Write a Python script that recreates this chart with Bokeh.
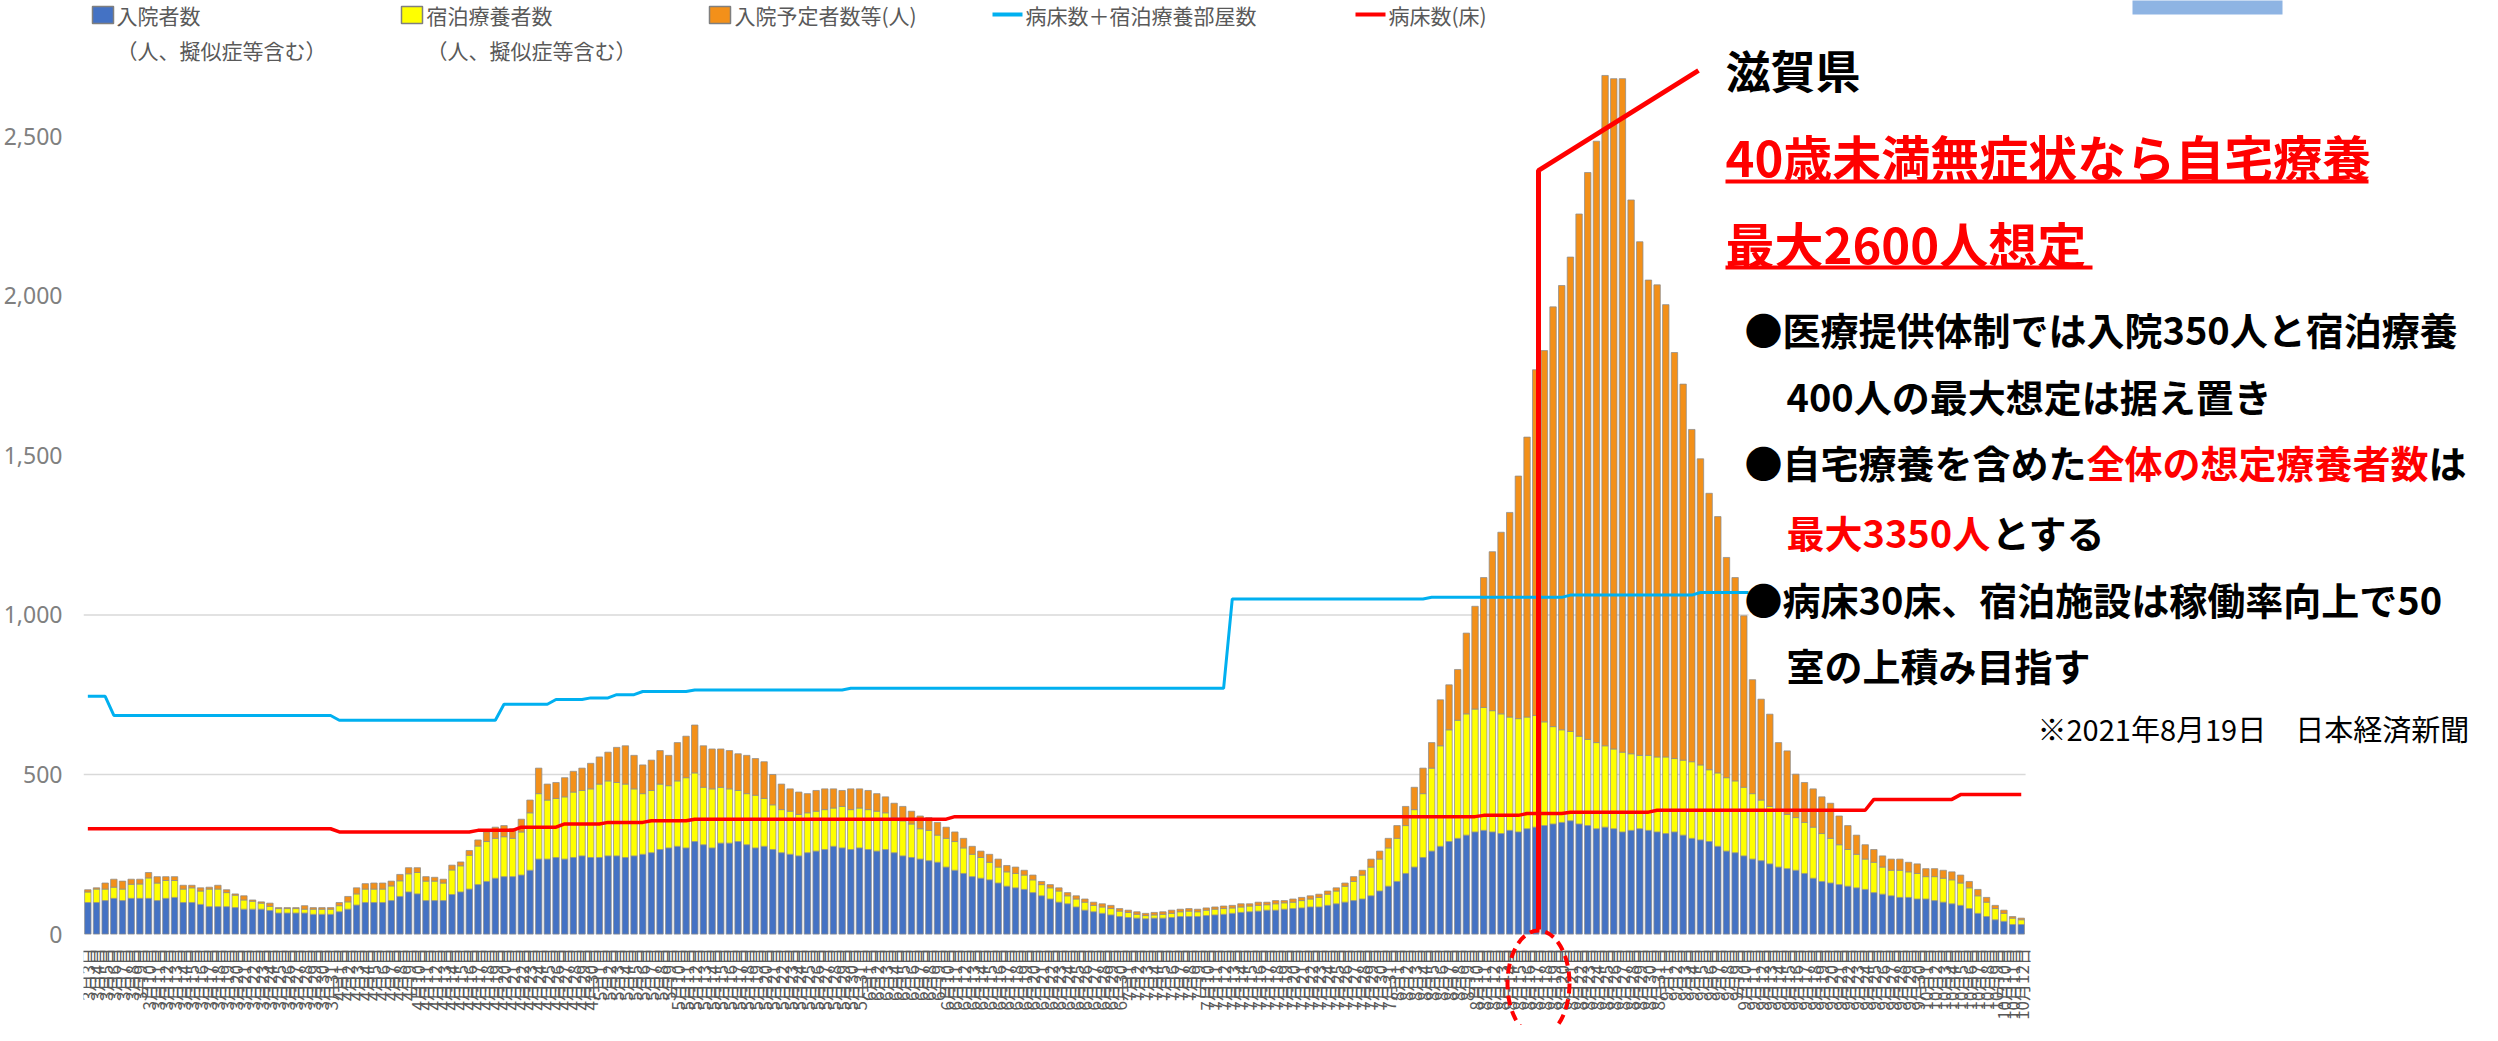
import math
import datetime
from bokeh.plotting import figure
from bokeh.models import Range1d, FixedTicker, NumeralTickFormatter, ColumnDataSource
from bokeh.embed import file_html
from bokeh.resources import INLINE
from bokeh.core.properties import value

# ---------------- data ----------------
start_date = datetime.date(2021, 3, 3)
N_DAYS = 224
date_labels = [f"{d.month}月{d.day}日" for d in
               (start_date + datetime.timedelta(days=i) for i in range(N_DAYS))]

# 入院者数（人、擬似症等含む）
hospitalized = [
    99, 99, 105, 112, 105, 112, 112, 112, 105, 112, 115, 99, 99, 93, 86, 86,
    86, 83, 78, 78, 78, 74, 66, 66, 66, 66, 62, 62, 62, 70, 78, 91,
    99, 99, 99, 105, 118, 132, 126, 105, 105, 105, 124, 132, 141, 155, 165, 175,
    180, 180, 185, 200, 235, 235, 240, 235, 240, 245, 240, 240, 245, 245, 240, 245,
    250, 255, 265, 270, 275, 270, 290, 280, 270, 285, 285, 290, 280, 270, 275, 265,
    255, 250, 245, 255, 260, 265, 275, 270, 265, 270, 265, 260, 265, 255, 245, 240,
    235, 230, 225, 210, 200, 190, 180, 175, 170, 160, 150, 145, 140, 130, 120, 110,
    100, 95, 85, 75, 70, 65, 60, 55, 52, 50, 48, 50, 50, 52, 55, 55,
    55, 58, 60, 62, 65, 68, 70, 72, 75, 75, 78, 80, 82, 85, 85, 90,
    95, 100, 105, 110, 120, 135, 150, 165, 190, 210, 240, 260, 275, 290, 300, 310,
    320, 325, 320, 315, 325, 320, 330, 335, 340, 345, 350, 355, 345, 340, 330, 335,
    330, 320, 325, 330, 325, 320, 315, 320, 310, 300, 295, 290, 275, 260, 255, 245,
    235, 230, 220, 210, 205, 200, 190, 175, 165, 160, 155, 150, 145, 140, 130, 125,
    120, 115, 115, 110, 110, 105, 100, 95, 90, 80, 65, 55, 45, 40, 30, 30,
]
# 宿泊療養者数（人、擬似症等含む）
hotel = [
    33, 42, 36, 35, 36, 44, 45, 64, 55, 56, 53, 42, 46, 42, 55, 55,
    44, 39, 29, 25, 19, 13, 14, 14, 14, 12, 16, 16, 16, 19, 23, 35,
    42, 42, 42, 46, 49, 57, 67, 61, 61, 55, 77, 82, 106, 121, 125, 125,
    125, 120, 135, 180, 205, 185, 185, 195, 205, 205, 215, 230, 235, 230, 230, 210,
    190, 195, 205, 195, 205, 220, 215, 180, 185, 175, 170, 160, 160, 165, 150, 140,
    135, 135, 130, 125, 125, 125, 120, 130, 125, 125, 125, 125, 115, 110, 110, 105,
    95, 95, 85, 90, 90, 80, 70, 65, 55, 50, 45, 45, 45, 40, 35, 35,
    35, 25, 25, 25, 20, 20, 20, 17, 16, 12, 10, 10, 12, 13, 15, 17,
    15, 17, 18, 18, 17, 17, 18, 18, 17, 20, 20, 20, 23, 25, 30, 35,
    40, 50, 60, 75, 90, 100, 120, 135, 150, 180, 200, 260, 315, 350, 370, 380,
    385, 385, 380, 375, 355, 355, 350, 350, 325, 305, 290, 280, 275, 270, 270, 255,
    250, 250, 240, 230, 235, 235, 240, 230, 235, 240, 235, 225, 230, 230, 225, 215,
    205, 190, 180, 175, 170, 165, 160, 160, 150, 140, 125, 115, 105, 95, 95, 85,
    80, 85, 80, 80, 70, 75, 75, 75, 70, 65, 55, 45, 35, 25, 20, 15,
]
# 入院予定者数等(人)
pending = [
    7, 4, 19, 25, 25, 16, 15, 17, 20, 12, 12, 12, 8, 10, 6, 12,
    9, 4, 13, 4, 4, 10, 3, 3, 3, 11, 5, 5, 5, 10, 17, 19,
    17, 19, 19, 15, 20, 19, 15, 14, 12, 12, 15, 12, 15, 19, 30, 35,
    35, 30, 40, 40, 80, 50, 50, 60, 65, 70, 80, 85, 90, 110, 120, 105,
    90, 95, 105, 95, 120, 130, 150, 130, 125, 120, 120, 115, 120, 115, 115, 95,
    80, 70, 70, 60, 65, 65, 60, 50, 65, 60, 60, 55, 50, 45, 45, 40,
    40, 40, 40, 35, 30, 30, 25, 20, 25, 25, 20, 20, 15, 15, 10, 10,
    10, 10, 10, 10, 10, 10, 10, 8, 7, 8, 7, 8, 8, 10, 8, 8,
    8, 7, 7, 8, 8, 10, 7, 10, 8, 10, 7, 10, 10, 10, 10, 10,
    10, 10, 15, 15, 25, 25, 30, 40, 60, 70, 80, 80, 144, 141, 159, 253,
    322, 407, 498, 569, 641, 760, 877, 1083, 1163, 1315, 1392, 1486, 1636, 1776, 1884, 2100,
    2100, 2110, 1735, 1609, 1489, 1479, 1417, 1272, 1178, 1041, 959, 866, 803, 690, 637, 537,
    357, 316, 289, 215, 199, 136, 125, 120, 115, 110, 90, 75, 60, 45, 40, 35,
    35, 35, 30, 30, 25, 25, 25, 25, 25, 20, 20, 15, 10, 10, 5, 5,
]
# 病床数＋宿泊療養部屋数
beds_plus_rooms = [
    745, 745, 745, 685, 685, 685, 685, 685, 685, 685, 685, 685, 685, 685, 685, 685,
    685, 685, 685, 685, 685, 685, 685, 685, 685, 685, 685, 685, 685, 670, 670, 670,
    670, 670, 670, 670, 670, 670, 670, 670, 670, 670, 670, 670, 670, 670, 670, 670,
    720, 720, 720, 720, 720, 720, 735, 735, 735, 735, 740, 740, 740, 750, 750, 750,
    760, 760, 760, 760, 760, 760, 765, 765, 765, 765, 765, 765, 765, 765, 765, 765,
    765, 765, 765, 765, 765, 765, 765, 765, 770, 770, 770, 770, 770, 770, 770, 770,
    770, 770, 770, 770, 770, 770, 770, 770, 770, 770, 770, 770, 770, 770, 770, 770,
    770, 770, 770, 770, 770, 770, 770, 770, 770, 770, 770, 770, 770, 770, 770, 770,
    770, 770, 770, 770, 1050, 1050, 1050, 1050, 1050, 1050, 1050, 1050, 1050, 1050, 1050, 1050,
    1050, 1050, 1050, 1050, 1050, 1050, 1050, 1050, 1050, 1050, 1050, 1055, 1055, 1055, 1055, 1055,
    1055, 1055, 1055, 1055, 1055, 1055, 1055, 1055, 1055, 1055, 1055, 1062, 1062, 1062, 1062, 1062,
    1062, 1062, 1062, 1062, 1062, 1062, 1062, 1062, 1062, 1062, 1070, 1070, 1070, 1070, 1070, 1070,
    1070, 1070, 1070, 1070, 1070, 1070, 1070, 1070, 1070, 1070, 1070, 1070, 1070, 1070, 1070, 1070,
    1070, 1070, 1070, 1070, 1070, 1070, 1070, 1070, 1070, 1070, 1070, 1070, 1070, 1070, 1070, 1070,
]
# 病床数(床)
beds = [
    330, 330, 330, 330, 330, 330, 330, 330, 330, 330, 330, 330, 330, 330, 330, 330,
    330, 330, 330, 330, 330, 330, 330, 330, 330, 330, 330, 330, 330, 320, 320, 320,
    320, 320, 320, 320, 320, 320, 320, 320, 320, 320, 320, 320, 320, 325, 325, 325,
    325, 325, 335, 335, 335, 335, 335, 345, 345, 345, 345, 345, 350, 350, 350, 350,
    350, 355, 355, 355, 355, 355, 360, 360, 360, 360, 360, 360, 360, 360, 360, 360,
    360, 360, 360, 360, 360, 360, 360, 360, 360, 360, 360, 360, 360, 360, 360, 360,
    360, 360, 360, 360, 368, 368, 368, 368, 368, 368, 368, 368, 368, 368, 368, 368,
    368, 368, 368, 368, 368, 368, 368, 368, 368, 368, 368, 368, 368, 368, 368, 368,
    368, 368, 368, 368, 368, 368, 368, 368, 368, 368, 368, 368, 368, 368, 368, 368,
    368, 368, 368, 368, 368, 368, 368, 368, 368, 368, 368, 368, 368, 368, 368, 368,
    368, 372, 372, 372, 372, 372, 378, 378, 378, 378, 378, 382, 382, 382, 382, 382,
    382, 382, 382, 382, 382, 388, 388, 388, 388, 388, 388, 388, 388, 388, 388, 388,
    388, 388, 388, 388, 388, 388, 388, 388, 388, 388, 388, 388, 388, 388, 422, 422,
    422, 422, 422, 422, 422, 422, 422, 422, 437, 437, 437, 437, 437, 437, 437, 437,
]
y_ticks = [0, 500, 1000, 1500, 2000, 2500]
grid_values = [500, 1000]

legend_labels = ["入院者数", "宿泊療養者数", "入院予定者数等(人)", "病床数＋宿泊療養部屋数", "病床数(床)"]
legend_sub = "（人、擬似症等含む）"

# ---------------- layout helpers (page pixels -> data) ----------------
W, H = 2482, 1025
PX0 = 91.0      # page x of the frame's left edge (= x -0.5)
PITCH = 8.67    # px per day
Y0 = 941.6      # page y of value 0
PPU = 0.3192    # px per person


def X(px):
    return -0.5 + (px - PX0) / PITCH


def Y(py):
    return (Y0 - py) / PPU


JP = "Noto Sans CJK JP"
BLUE, YELLOW, ORANGE = "#4472C4", "#FFFF00", "#F39019"
CYAN, RED = "#00B0F0", "#FF0000"

p = figure(width=W, height=H, output_backend="svg", toolbar_location=None,
           x_range=Range1d(X(91), X(2490)), y_range=Range1d(Y(1033), Y(8)),
           min_border_left=83, min_border_right=0, min_border_top=0, min_border_bottom=0)
p.outline_line_color = None
p.xgrid.visible = False
p.ygrid.visible = False

# axes
xa = p.xaxis[0]
xa.fixed_location = 0
xa.ticker = FixedTicker(ticks=list(range(N_DAYS)))
xa.major_label_overrides = {i: lab for i, lab in enumerate(date_labels)}
xa.major_label_orientation = math.pi / 2
xa.major_label_text_font = JP
xa.major_label_text_font_size = "17px"
xa.major_label_text_color = "#595959"
xa.major_label_standoff = 8
xa.axis_line_color = None
xa.major_tick_line_color = None
xa.minor_tick_line_color = None

ya = p.yaxis[0]
ya.ticker = FixedTicker(ticks=y_ticks)
ya.formatter = NumeralTickFormatter(format="0,0")
ya.major_label_text_font = "Noto Sans"
ya.major_label_text_font_size = "23px"
ya.major_label_text_color = "#808080"
ya.major_label_standoff = 15
ya.axis_line_color = None
ya.major_tick_line_color = None
ya.minor_tick_line_color = None

# gridlines
n = len(grid_values)
p.segment(x0=[-0.5] * n, x1=[N_DAYS - 0.5] * n, y0=grid_values, y1=grid_values,
          line_color="#D9D9D9", line_width=1.5)

# stacked bars
src = ColumnDataSource(dict(x=list(range(N_DAYS)), hosp=hospitalized, hotel=hotel,
                            pending=pending, label=date_labels))
p.vbar_stack(["hosp", "hotel", "pending"], x="x", width=0.74, source=src,
             fill_color=[BLUE, YELLOW, ORANGE], line_color="#8C8C8C",
             line_width=1, line_alpha=0.75)

# lines
days = list(range(N_DAYS))
p.line(days, beds_plus_rooms, line_color=CYAN, line_width=3)
p.line(days, beds, line_color=RED, line_width=3.5)

# white panel behind the annotation text
p.quad(left=[X(1756)], right=[X(2490)], bottom=[Y(640)], top=[Y(8)],
       fill_color="white", line_color=None)
# light-blue slide fragment top-right
p.quad(left=[X(2140)], right=[X(2290)], bottom=[Y(22)], top=[Y(0)],
       fill_color="#8EB4E3", line_color=None)

# ---------------- legend ----------------
def txt(px, py, s, size, color="black", bold=False, font=JP):
    p.text(x=[X(px)], y=[Y(py)], text=[s], text_font=value(font),
           text_font_size=f"{size}px", text_color=color,
           text_font_style="bold" if bold else "normal",
           text_baseline="middle", text_align="left")


for (l, r, col) in [(100, 121, BLUE), (409, 430, YELLOW), (717, 738, ORANGE)]:
    p.quad(left=[X(l)], right=[X(r)], top=[Y(14)], bottom=[Y(31)],
           fill_color=col, line_color="#7F7F7F", line_width=1.5)
p.line([X(1000), X(1030)], [Y(22), Y(22)], line_color=CYAN, line_width=4)
p.line([X(1363), X(1393)], [Y(22), Y(22)], line_color=RED, line_width=4)

LG = "#595959"
txt(124, 22, legend_labels[0], 21, LG)
txt(124, 57, legend_sub, 21, LG)
txt(434, 22, legend_labels[1], 21, LG)
txt(434, 57, legend_sub, 21, LG)
txt(742, 22, legend_labels[2], 21, LG)
txt(1033, 22, legend_labels[3], 21, LG)
txt(1396, 22, legend_labels[4], 21, LG)

# ---------------- annotation ----------------
p.line([X(1546), X(1546), X(1706)], [Y(937), Y(178), Y(78)],
       line_color=RED, line_width=5)
ell = p.ellipse(x=[X(1546)], y=[Y(991)], width=[62 / PITCH], height=[106 / PPU],
                fill_color=None, line_color=RED, line_width=4, line_dash="10 6")
ell.level = "overlay"

txt(1733, 77, "滋賀県", 45, "black", True)
txt(1733, 163, "40歳未満無症状なら自宅療養", 49, RED, True)
p.line([X(1733), X(2376)], [Y(189), Y(189)], line_color=RED, line_width=4)
txt(1733, 250, "最大2600人想定", 49, RED, True)
p.line([X(1733), X(2100)], [Y(275), Y(275)], line_color=RED, line_width=4)

B = 38
txt(1752, 336, "●医療提供体制では入院350人と宿泊療養", B, "black", True)
txt(1794, 403, "400人の最大想定は据え置き", B, "black", True)
txt(1752, 469, "●自宅療養を含めた", B, "black", True)
txt(1752 + 9 * B, 469, "全体の想定療養者数", B, RED, True)
txt(1752 + 18 * B, 469, "は", B, "black", True)
txt(1794, 539, "最大3350人", B, RED, True)
txt(1794 + 3 * B + 4 * 0.6 * B, 539, "とする", B, "black", True)
txt(1752, 606, "●病床30床、宿泊施設は稼働率向上で50", B, "black", True)
txt(1794, 672, "室の上積み目指す", B, "black", True)
txt(2045, 735, "※2021年8月19日　日本経済新聞", 29, "black", False)

open("out.html", "w").write(file_html(p, INLINE))
